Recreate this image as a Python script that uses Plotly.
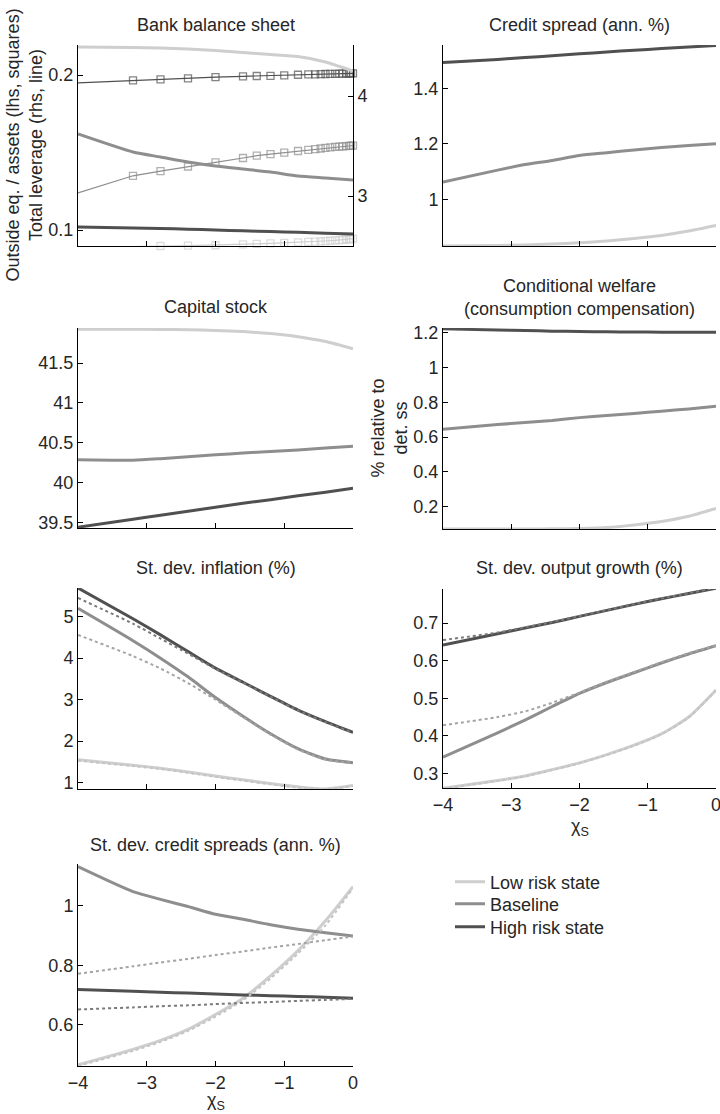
import plotly.graph_objects as go

# ---------------- data ----------------
CHI = [-4, -3.2, -2.8, -2.4, -2.0, -1.6, -1.2, -0.8, -0.4, 0]
CHI_FINE = [-4, -3.2, -2.8, -2.4, -2.0, -1.6, -1.4, -1.2, -1.0, -0.8, -0.65, -0.55,
            -0.47, -0.4, -0.33, -0.26, -0.2, -0.15, -0.1, -0.06, -0.03, 0]

# Bank balance sheet: total leverage (rhs, thick lines)
lev_low = [4.49, 4.485, 4.48, 4.47, 4.455, 4.435, 4.415, 4.395, 4.34, 4.25]
lev_base = [3.62, 3.44, 3.39, 3.34, 3.30, 3.27, 3.24, 3.20, 3.18, 3.16]
lev_high = [2.69, 2.68, 2.675, 2.668, 2.66, 2.652, 2.645, 2.637, 2.628, 2.62]
# Bank balance sheet: outside equity / assets (lhs, squares)
oe_low = [0.0885, 0.0896, 0.0897, 0.0899, 0.0902, 0.0908, 0.0911, 0.0914, 0.0917, 0.0920,
          0.0923, 0.0925, 0.0927, 0.0929, 0.0931, 0.0933, 0.0935, 0.0937, 0.0939, 0.0941,
          0.0942, 0.0944]
oe_base = [0.124, 0.135, 0.138, 0.141, 0.1437, 0.1465, 0.148, 0.149, 0.150, 0.151, 0.1517,
           0.1522, 0.1526, 0.153, 0.1533, 0.1536, 0.1538, 0.154, 0.1542, 0.1543, 0.1544, 0.1545]
oe_high = [0.1950, 0.1966, 0.1972, 0.1979, 0.1987, 0.1992, 0.1994, 0.1995, 0.1998, 0.2002,
           0.2004, 0.2005, 0.2006, 0.2007, 0.2008, 0.2008, 0.2009, 0.2009, 0.2010, 0.2010,
           0.2011, 0.2011]

# Credit spread (ann. %)
cs_low = [0.831, 0.833, 0.835, 0.838, 0.843, 0.849, 0.858, 0.869, 0.885, 0.905]
cs_base = [1.062, 1.105, 1.125, 1.14, 1.158, 1.168, 1.178, 1.187, 1.194, 1.2]
cs_high = [1.494, 1.505, 1.512, 1.518, 1.525, 1.532, 1.538, 1.544, 1.55, 1.555]

# Capital stock
k_low = [41.925, 41.925, 41.922, 41.918, 41.91, 41.895, 41.87, 41.83, 41.77, 41.68]
k_base = [40.285, 40.28, 40.30, 40.325, 40.35, 40.37, 40.39, 40.41, 40.435, 40.455]
k_high = [39.44, 39.54, 39.59, 39.64, 39.69, 39.74, 39.785, 39.835, 39.88, 39.93]

# Conditional welfare (consumption compensation)
w_low = [0.072, 0.072, 0.072, 0.073, 0.075, 0.08, 0.095, 0.115, 0.145, 0.19]
w_base = [0.645, 0.672, 0.684, 0.696, 0.712, 0.724, 0.736, 0.749, 0.762, 0.777]
w_high = [1.222, 1.215, 1.212, 1.209, 1.207, 1.205, 1.204, 1.203, 1.202, 1.202]

# St. dev. inflation (%)
inf_low = [1.55, 1.42, 1.35, 1.26, 1.16, 1.07, 0.98, 0.9, 0.85, 0.93]
inf_base = [5.2, 4.42, 4.0, 3.55, 3.05, 2.6, 2.18, 1.82, 1.57, 1.48]
inf_high = [5.69, 4.95, 4.56, 4.16, 3.76, 3.42, 3.08, 2.75, 2.47, 2.21]
inf_low_d = [1.53, 1.40, 1.33, 1.24, 1.14, 1.05, 0.96, 0.88, 0.84, 0.92]
inf_base_d = [4.56, 4.05, 3.75, 3.4, 3.0, 2.58, 2.16, 1.8, 1.56, 1.47]
inf_high_d = [5.45, 4.83, 4.47, 4.11, 3.74, 3.41, 3.07, 2.74, 2.46, 2.2]

# St. dev. output growth (%)
y_low = [0.26, 0.281, 0.293, 0.31, 0.328, 0.35, 0.375, 0.405, 0.45, 0.522]
y_base = [0.343, 0.408, 0.442, 0.478, 0.513, 0.542, 0.568, 0.594, 0.618, 0.64]
y_high = [0.642, 0.672, 0.687, 0.702, 0.718, 0.734, 0.75, 0.765, 0.779, 0.793]
y_low_d = [0.259, 0.28, 0.292, 0.309, 0.327, 0.349, 0.374, 0.404, 0.449, 0.521]
y_base_d = [0.428, 0.45, 0.465, 0.488, 0.515, 0.544, 0.57, 0.596, 0.62, 0.641]
y_high_d = [0.655, 0.675, 0.689, 0.703, 0.719, 0.735, 0.751, 0.766, 0.78, 0.794]

# St. dev. credit spreads (ann. %)
sc_low = [0.466, 0.518, 0.548, 0.585, 0.635, 0.69, 0.765, 0.85, 0.95, 1.065]
sc_base = [1.132, 1.048, 1.022, 0.998, 0.972, 0.955, 0.937, 0.922, 0.91, 0.899]
sc_high = [0.719, 0.713, 0.71, 0.707, 0.704, 0.701, 0.698, 0.696, 0.693, 0.69]
sc_low_d = [0.462, 0.513, 0.543, 0.58, 0.628, 0.683, 0.756, 0.84, 0.935, 1.06]
sc_base_d = [0.772, 0.797, 0.81, 0.822, 0.835, 0.847, 0.86, 0.872, 0.885, 0.897]
sc_high_d = [0.652, 0.659, 0.663, 0.666, 0.67, 0.674, 0.677, 0.681, 0.684, 0.688]

SERIES = ["Low risk state", "Baseline", "High risk state"]
XTICKS = [-4, -3, -2, -1, 0]

# ---------------- styling ----------------
COL = ["#cecece", "#8e8e8e", "#505050"]
COL_DOT = ["#c4c4c4", "#a4a4a4", "#7a7a7a"]
FONT = "Liberation Sans, Arial, Helvetica, sans-serif"
FS = 18
TXT = "#262626"
W, H = 720, 1114


def dom_x(a, b):
    return [a / W, b / W]


def dom_y(top, bottom):
    return [1 - bottom / H, 1 - top / H]


fig = go.Figure()


def solid(xa, ya, x, y, i, legend=None):
    fig.add_trace(go.Scatter(x=x, y=y, mode="lines", xaxis=xa, yaxis=ya,
                             line=dict(color=COL[i], width=3, shape="spline", smoothing=0.6),
                             name=SERIES[i], showlegend=legend is not None,
                             legend=legend or "legend", hoverinfo="skip"))


def dotted(xa, ya, x, y, i):
    fig.add_trace(go.Scatter(x=x, y=y, mode="lines", xaxis=xa, yaxis=ya,
                             line=dict(color=COL_DOT[i], width=2, dash="dot",
                                       shape="spline", smoothing=0.6),
                             showlegend=False, hoverinfo="skip"))


# Panel 1: bank balance sheet
for i, d in enumerate([lev_low, lev_base, lev_high]):
    solid("x", "y8", CHI, d, i)
for i, d in enumerate([oe_low, oe_base, oe_high]):
    sizes = [0] + [7] * (len(CHI_FINE) - 1)
    fig.add_trace(go.Scatter(x=CHI_FINE, y=d, mode="lines+markers", xaxis="x", yaxis="y",
                             line=dict(color=COL[i], width=1.2),
                             marker=dict(symbol="square-open", size=sizes, color=COL[i],
                                         line=dict(width=1.3, color=COL[i])),
                             cliponaxis=False, showlegend=False, hoverinfo="skip"))

# Panel 2: credit spread (also feeds the legend)
legends = ["legend", "legend2", "legend3"]
for i, d in enumerate([cs_low, cs_base, cs_high]):
    solid("x2", "y2", CHI, d, i, legend=legends[i])
# Panel 3: capital stock
for i, d in enumerate([k_low, k_base, k_high]):
    solid("x3", "y3", CHI, d, i)
# Panel 4: welfare
for i, d in enumerate([w_low, w_base, w_high]):
    solid("x4", "y4", CHI, d, i)
# Panel 5: inflation
for i, d in enumerate([inf_low, inf_base, inf_high]):
    solid("x5", "y5", CHI, d, i)
for i, d in enumerate([inf_low_d, inf_base_d, inf_high_d]):
    dotted("x5", "y5", CHI, d, i)
# Panel 6: output growth
for i, d in enumerate([y_low, y_base, y_high]):
    solid("x6", "y6", CHI, d, i)
for i, d in enumerate([y_low_d, y_base_d, y_high_d]):
    dotted("x6", "y6", CHI, d, i)
# Panel 7: credit spreads sd
for i, d in enumerate([sc_low, sc_base, sc_high]):
    solid("x7", "y7", CHI, d, i)
for i, d in enumerate([sc_low_d, sc_base_d, sc_high_d]):
    dotted("x7", "y7", CHI, d, i)

# ---------------- axes ----------------
panels = {
    1: (78, 353, 45, 246),
    2: (443, 716, 45, 246),
    3: (78, 353, 328, 528),
    4: (443, 716, 328, 529),
    5: (78, 353, 588, 789),
    6: (443, 716, 589, 788),
    7: (78, 353, 864, 1066),
}
yranges = {
    1: [0.0897, 0.2194],
    2: [0.831, 1.557],
    3: [39.43, 41.94],
    4: [0.072, 1.227],
    5: [0.848, 5.69],
    6: [0.261, 0.791],
    7: [0.462, 1.141],
}
ytickvals = {
    1: [0.1, 0.2],
    2: [1, 1.2, 1.4],
    3: [39.5, 40, 40.5, 41, 41.5],
    4: [0.2, 0.4, 0.6, 0.8, 1, 1.2],
    5: [1, 2, 3, 4, 5],
    6: [0.3, 0.4, 0.5, 0.6, 0.7],
    7: [0.6, 0.8, 1],
}
yticktext = {
    1: ["0.1", "0.2"],
    2: ["1", "1.2", "1.4"],
    3: ["39.5", "40", "40.5", "41", "41.5"],
    4: ["0.2", "0.4", "0.6", "0.8", "1", "1.2"],
    5: ["1", "2", "3", "4", "5"],
    6: ["0.3", "0.4", "0.5", "0.6", "0.7"],
    7: ["0.6", "0.8", "1"],
}

axis_common = dict(showline=True, linecolor="black", linewidth=1, ticks="inside",
                   ticklen=5, tickcolor="black", showgrid=False, zeroline=False,
                   automargin=False, ticklabeloverflow="allow",
                   tickfont=dict(family=FONT, size=FS, color=TXT), fixedrange=True)

lay = {}
for k, (x0, x1, y0, y1) in panels.items():
    sx = "" if k == 1 else str(k)
    lay["xaxis" + sx] = dict(axis_common, domain=dom_x(x0, x1), range=[-4, 0],
                             tickvals=XTICKS, anchor="y" + sx,
                             showticklabels=k in (6, 7))
    lay["yaxis" + sx] = dict(axis_common, domain=dom_y(y0, y1), range=yranges[k],
                             tickvals=ytickvals[k], ticktext=yticktext[k],
                             anchor="x" + sx)
# right axis of panel 1
lay["yaxis8"] = dict(axis_common, overlaying="y", side="right", anchor="x",
                     range=[2.50, 4.51], tickvals=[3, 4], ticktext=["3", "4"])


def ann(text, x, y, angle=0, size=FS):
    return dict(text=text, x=x / W, y=1 - y / H, xref="paper", yref="paper",
                showarrow=False, textangle=angle, xanchor="center", yanchor="middle",
                font=dict(family=FONT, size=size, color=TXT))


annotations = [
    ann("Bank balance sheet", 215.5, 25),
    ann("Credit spread (ann. %)", 579.5, 25),
    ann("Capital stock", 215.5, 307),
    ann("Conditional welfare<br>(consumption compensation)", 579.5, 297),
    ann("St. dev. inflation (%)", 215.5, 568),
    ann("St. dev. output growth (%)", 579.5, 568),
    ann("St. dev. credit spreads (ann. %)", 215.5, 845),
    ann("Outside eq. / assets (lhs, squares)<br>Total leverage (rhs, line)", 24, 145.5, -90),
    ann("% relative to<br>det. ss", 389, 428.5, -90),
    ann("χ<sub>S</sub>", 579.5, 827),
    ann("χ<sub>S</sub>", 215.5, 1101),
]


def leg(y):
    return dict(x=450 / W, y=1 - y / H, xanchor="left", yanchor="middle",
                bgcolor="rgba(0,0,0,0)", font=dict(family=FONT, size=FS, color=TXT),
                itemwidth=30)


fig.update_layout(
    template="none",
    width=W, height=H, margin=dict(l=0, r=0, t=0, b=0, autoexpand=False),
    paper_bgcolor="white", plot_bgcolor="white",
    font=dict(family=FONT, size=FS, color=TXT),
    showlegend=True,
    legend=leg(882), legend2=leg(904), legend3=leg(927),
    annotations=annotations,
    **lay,
)

fig.write_html("out.html", config={"displayModeBar": False, "staticPlot": True},
               post_script="document.body.style.margin='0';")
